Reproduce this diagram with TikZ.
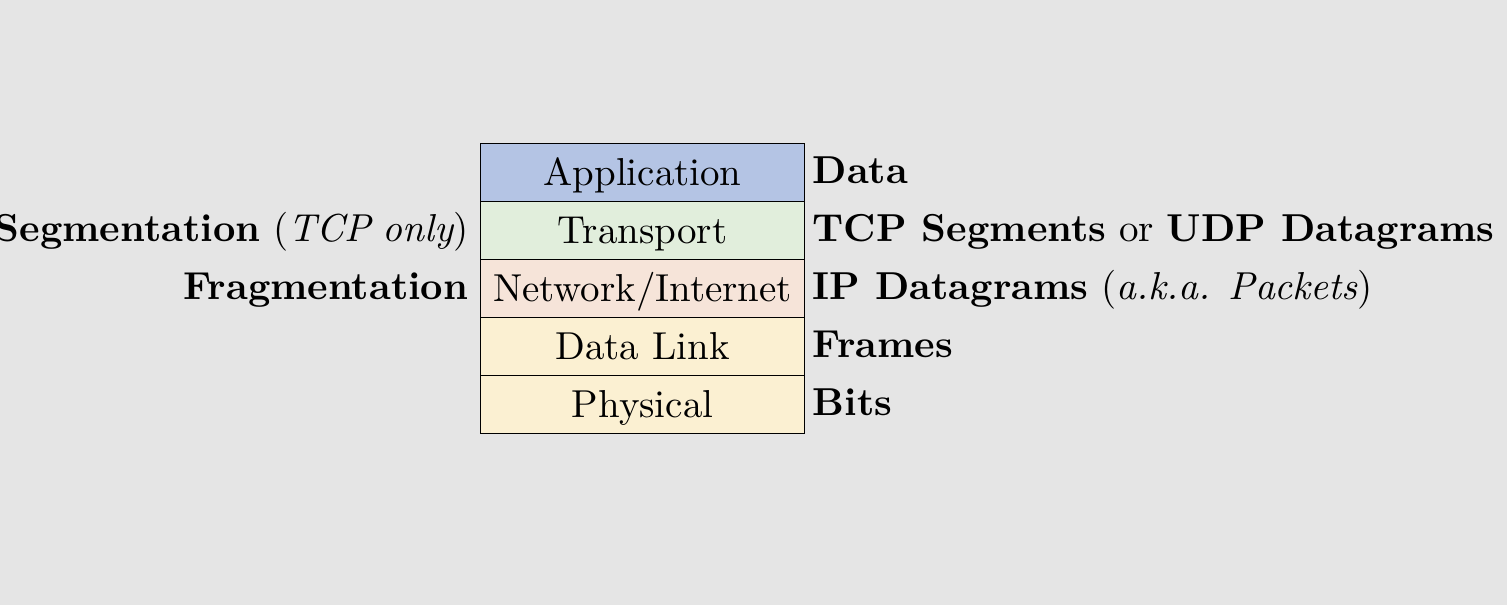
\documentclass[tikz,border=0pt]{standalone}
\definecolor{bg}{HTML}{E5E5E5}
\definecolor{appc}{HTML}{B4C4E4}
\definecolor{trac}{HTML}{E1EEDC}
\definecolor{netc}{HTML}{F6E4D9}
\definecolor{linc}{HTML}{FBF0D2}
\begin{document}
\begin{tikzpicture}[x=0.2567pt,y=-0.2567pt,
  layer/.style={draw=black, line width=0.3pt, minimum width=83.17pt, minimum height=14.89pt,
    inner sep=0pt, text height=1.58ex, text depth=0pt, anchor=north west},
  rlab/.style={anchor=base west, inner sep=0pt},
  llab/.style={anchor=base east, inner sep=0pt}]
\fill[bg] (0,0) rectangle (1507,605);
\useasboundingbox (0,0) rectangle (1507,605);
\node[layer, fill=appc] (app) at (480,143) {Application};
\node[layer, fill=trac] (tra) at (480,201) {Transport};
\node[layer, fill=netc] (net) at (480,259) {Network/Internet};
\node[layer, fill=linc] (lnk) at (480,317) {Data Link};
\node[layer, fill=linc] (phy) at (480,375) {Physical};
\node[rlab] (dapp) at (812,184) {\textbf{Data}};
\node[rlab] (dtra) at (812,242) {\textbf{TCP Segments} or \textbf{UDP Datagrams}};
\node[rlab] (dnet) at (812,300) {\textbf{IP Datagrams} (\textit{a.k.a. Packets})};
\node[rlab] (dlnk) at (812,358) {\textbf{Frames}};
\node[rlab] (dphy) at (812,416) {\textbf{Bits}};
\node[llab] (stra) at (469,242) {\textbf{Segmentation}\hspace{0.33em}({\itshape TCP\hspace{0.3em}only})};
\node[llab] (snet) at (469,300) {\textbf{Fragmentation}};
\end{tikzpicture}
\end{document}
